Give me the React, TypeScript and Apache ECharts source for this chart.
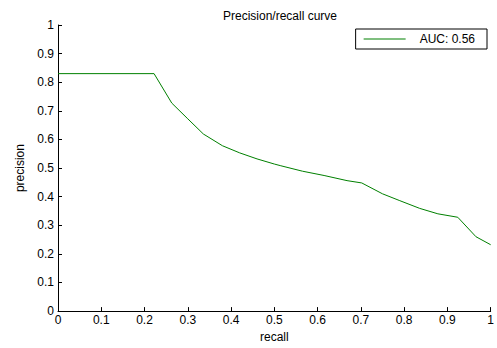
import React, { useEffect, useRef } from "react";
import * as echarts from "echarts";

const recall = [0, 0.222, 0.263, 0.3, 0.336, 0.38, 0.42, 0.46, 0.5, 0.515, 0.565, 0.615, 0.668, 0.702, 0.75, 0.79, 0.836, 0.878, 0.924, 0.966, 1.0];
const precision = [0.83, 0.83, 0.727, 0.672, 0.619, 0.578, 0.553, 0.532, 0.514, 0.508, 0.489, 0.474, 0.456, 0.448, 0.41, 0.386, 0.359, 0.34, 0.328, 0.26, 0.232];
const seriesName = "AUC: 0.56";
const titleText = "Precision/recall curve";

export default function App() {
  const ref = useRef<HTMLDivElement>(null);
  useEffect(() => {
    if (!ref.current) return;
    const chart = echarts.init(ref.current, null, { renderer: "svg" });
    const font = "Liberation Sans, Arial, sans-serif";
    const axisCommon = {
      type: "value" as const,
      min: 0,
      max: 1,
      interval: 0.1,
      splitLine: { show: false },
      axisLine: { show: true, onZero: false, lineStyle: { color: "#000", width: 1 } },
      axisTick: { show: true, inside: true, length: 4, lineStyle: { color: "#000", width: 1 } },
      nameTextStyle: { color: "#000", fontSize: 12, fontFamily: font },
    };
    chart.setOption({
      animation: false,
      backgroundColor: "#fff",
      title: {
        text: titleText,
        left: 275,
        top: 5,
        textAlign: "center",
        textStyle: { color: "#000", fontSize: 12, fontWeight: "normal", fontFamily: font },
      },
      legend: {
        right: 10,
        top: 29,
        orient: "horizontal",
        borderColor: "#000",
        borderWidth: 1,
        padding: [4, 12, 4, 8],
        itemWidth: 42,
        itemHeight: 1,
        icon: "rect",
        itemStyle: { color: "#008000" },
        textStyle: { color: "#000", fontSize: 12, fontFamily: font, padding: [0, 0, 0, 9], lineHeight: 12 },
        data: [seriesName],
      },
      grid: { left: 58, right: 2, top: 25, bottom: 30, containLabel: false },
      xAxis: {
        ...axisCommon,
        name: "recall",
        nameLocation: "middle",
        nameGap: 18,
        axisLabel: {
          color: "#000",
          fontSize: 12,
          fontFamily: font,
          margin: 3,
          formatter: (v: number) => String(Math.round(v * 10) / 10),
        },
      },
      yAxis: {
        ...axisCommon,
        name: "precision",
        nameLocation: "middle",
        nameGap: 32,
        axisLabel: {
          color: "#000",
          fontSize: 12,
          fontFamily: font,
          margin: 4,
          formatter: (v: number) => String(Math.round(v * 10) / 10),
        },
      },
      series: [
        {
          name: seriesName,
          type: "line",
          data: recall.map((r, i) => [r, precision[i]]),
          symbol: "none",
          lineStyle: { color: "#008000", width: 1 },
          itemStyle: { color: "#008000" },
        },
      ],
    });
    return () => chart.dispose();
  }, []);
  return <div ref={ref} style={{ width: 497, height: 348, position: "absolute", left: 0, top: 0 }} />;
}
